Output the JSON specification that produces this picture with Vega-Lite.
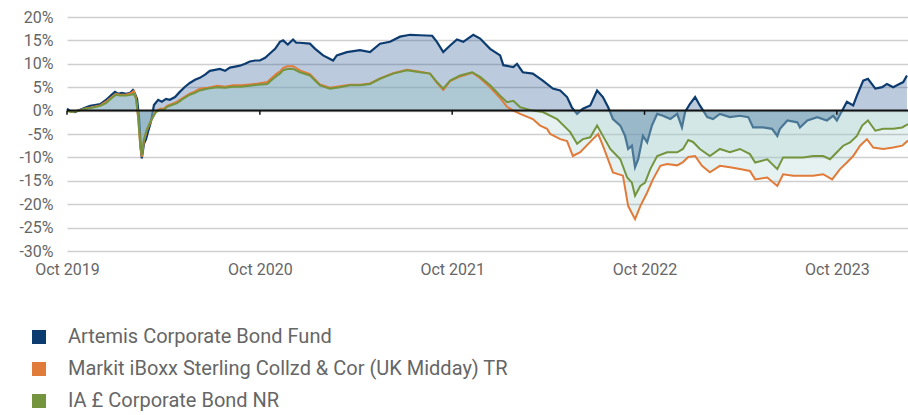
{
  "$schema": "https://vega.github.io/schema/vega-lite/v6.json",
  "width": 841,
  "height": 234,
  "autosize": {"type": "none"},
  "padding": {"left": 67, "top": 17, "right": 0, "bottom": 164},
  "background": "white",
  "config": {
    "view": {"stroke": null},
    "font": "Roboto",
    "axis": {"labelFont": "Roboto", "labelColor": "#666666", "labelFontSize": 16, "domain": false, "ticks": false, "title": null},
    "legend": {"labelFont": "Roboto"}
  },
  "datasets": {
    "fund": [
      {"d":"2019-10-01","v":0.4},{"d":"2019-10-07","v":-0.1},{"d":"2019-10-16","v":-0.3},{"d":"2019-10-26","v":0.2},{"d":"2019-11-04","v":0.6},{"d":"2019-11-14","v":1.0},{"d":"2019-11-23","v":1.2},{"d":"2019-12-03","v":1.4},{"d":"2019-12-12","v":2.1},{"d":"2019-12-18","v":2.7},{"d":"2019-12-25","v":3.4},{"d":"2019-12-31","v":4.0},
      {"d":"2020-01-06","v":3.6},{"d":"2020-01-13","v":3.8},{"d":"2020-01-21","v":3.6},{"d":"2020-01-29","v":3.8},{"d":"2020-02-03","v":4.4},{"d":"2020-02-07","v":3.6},{"d":"2020-02-11","v":2.5},{"d":"2020-02-15","v":-1.8},{"d":"2020-02-18","v":-8.2},{"d":"2020-02-20","v":-10.2},{"d":"2020-02-24","v":-7.1},{"d":"2020-02-28","v":-6.1},{"d":"2020-03-03","v":-4.4},{"d":"2020-03-07","v":-2.9},{"d":"2020-03-10","v":-1.4},{"d":"2020-03-14","v":1.2},{"d":"2020-03-22","v":2.3},{"d":"2020-03-29","v":1.9},{"d":"2020-04-06","v":2.5},{"d":"2020-04-13","v":2.3},{"d":"2020-04-23","v":2.9},{"d":"2020-05-02","v":4.0},{"d":"2020-05-12","v":5.1},{"d":"2020-05-21","v":5.9},{"d":"2020-05-31","v":6.6},{"d":"2020-06-09","v":7.0},{"d":"2020-06-19","v":7.7},{"d":"2020-06-28","v":8.5},{"d":"2020-07-08","v":8.7},{"d":"2020-07-17","v":8.9},{"d":"2020-07-27","v":8.5},{"d":"2020-08-05","v":9.2},{"d":"2020-08-15","v":9.4},{"d":"2020-08-24","v":9.6},{"d":"2020-09-03","v":10.0},{"d":"2020-09-12","v":10.5},{"d":"2020-09-22","v":10.7},{"d":"2020-10-01","v":10.7},{"d":"2020-10-11","v":11.3},{"d":"2020-10-20","v":12.2},{"d":"2020-10-30","v":13.2},{"d":"2020-11-08","v":14.7},{"d":"2020-11-14","v":15.0},{"d":"2020-11-23","v":14.1},{"d":"2020-12-03","v":15.2},{"d":"2020-12-09","v":14.5},{"d":"2020-12-16","v":14.5},
      {"d":"2021-01-04","v":14.3},{"d":"2021-01-14","v":13.2},{"d":"2021-01-29","v":11.8},{"d":"2021-02-17","v":10.7},{"d":"2021-02-24","v":11.8},{"d":"2021-03-15","v":12.5},{"d":"2021-04-09","v":12.9},{"d":"2021-04-28","v":12.5},{"d":"2021-05-17","v":14.3},{"d":"2021-06-05","v":14.7},{"d":"2021-06-24","v":15.8},{"d":"2021-07-13","v":16.2},{"d":"2021-08-01","v":16.1},{"d":"2021-08-24","v":16.0},{"d":"2021-09-02","v":14.7},{"d":"2021-09-14","v":12.5},{"d":"2021-09-27","v":13.9},{"d":"2021-10-10","v":15.2},{"d":"2021-10-22","v":14.7},{"d":"2021-11-10","v":16.2},{"d":"2021-11-23","v":15.4},{"d":"2021-12-12","v":13.2},{"d":"2021-12-31","v":11.8},
      {"d":"2022-01-06","v":9.7},{"d":"2022-01-25","v":9.3},{"d":"2022-02-01","v":10.0},{"d":"2022-02-12","v":8.2},{"d":"2022-03-03","v":7.9},{"d":"2022-03-22","v":6.4},{"d":"2022-04-10","v":4.7},{"d":"2022-04-24","v":4.3},{"d":"2022-05-07","v":2.9},{"d":"2022-05-16","v":0.7},{"d":"2022-05-26","v":-0.7},{"d":"2022-06-06","v":0.4},{"d":"2022-06-20","v":1.1},{"d":"2022-07-03","v":4.3},{"d":"2022-07-14","v":2.9},{"d":"2022-07-24","v":0.7},{"d":"2022-08-02","v":-1.8},{"d":"2022-08-16","v":-3.2},{"d":"2022-08-25","v":-5.4},{"d":"2022-08-31","v":-8.2},{"d":"2022-09-07","v":-7.5},{"d":"2022-09-13","v":-12.1},{"d":"2022-09-19","v":-10.4},{"d":"2022-09-28","v":-5.4},{"d":"2022-10-06","v":-6.8},{"d":"2022-10-15","v":-3.2},{"d":"2022-10-25","v":-0.7},{"d":"2022-11-05","v":-1.1},{"d":"2022-11-19","v":-1.8},{"d":"2022-12-02","v":-0.7},{"d":"2022-12-11","v":-3.6},{"d":"2022-12-17","v":-0.3},{"d":"2022-12-26","v":1.4},
      {"d":"2023-01-05","v":2.9},{"d":"2023-01-14","v":1.1},{"d":"2023-01-28","v":-1.4},{"d":"2023-02-08","v":-1.8},{"d":"2023-02-21","v":-0.7},{"d":"2023-03-12","v":-1.4},{"d":"2023-03-31","v":-1.1},{"d":"2023-04-16","v":-1.4},{"d":"2023-04-25","v":-3.6},{"d":"2023-05-14","v":-3.6},{"d":"2023-05-31","v":-3.9},{"d":"2023-06-10","v":-5.4},{"d":"2023-06-15","v":-3.9},{"d":"2023-06-29","v":-2.1},{"d":"2023-07-18","v":-2.5},{"d":"2023-07-23","v":-3.6},{"d":"2023-08-06","v":-2.1},{"d":"2023-08-25","v":-1.4},{"d":"2023-09-12","v":-2.1},{"d":"2023-09-24","v":-1.1},{"d":"2023-10-01","v":-2.1},{"d":"2023-10-13","v":0.4},{"d":"2023-10-20","v":1.9},{"d":"2023-11-01","v":1.1},{"d":"2023-11-08","v":3.2},{"d":"2023-11-20","v":6.4},{"d":"2023-11-29","v":6.8},{"d":"2023-12-13","v":4.7},{"d":"2023-12-26","v":5.0},
      {"d":"2024-01-04","v":5.7},{"d":"2024-01-16","v":5.0},{"d":"2024-01-23","v":5.4},{"d":"2024-02-04","v":6.1},{"d":"2024-02-11","v":7.5}
    ],
    "index": [
      {"d":"2019-10-01","v":0.0},{"d":"2019-10-10","v":-0.3},{"d":"2019-10-22","v":0.0},{"d":"2019-11-04","v":0.4},{"d":"2019-11-17","v":0.7},{"d":"2019-12-03","v":1.1},{"d":"2019-12-14","v":1.9},{"d":"2019-12-25","v":2.9},
      {"d":"2020-01-02","v":3.6},{"d":"2020-01-10","v":3.4},{"d":"2020-01-21","v":3.4},{"d":"2020-01-30","v":3.7},{"d":"2020-02-05","v":4.2},{"d":"2020-02-09","v":2.7},{"d":"2020-02-13","v":-1.4},{"d":"2020-02-17","v":-7.6},{"d":"2020-02-20","v":-9.9},{"d":"2020-02-24","v":-6.5},{"d":"2020-03-01","v":-4.1},{"d":"2020-03-07","v":-2.6},{"d":"2020-03-12","v":-1.4},{"d":"2020-03-18","v":-0.1},{"d":"2020-03-26","v":0.4},{"d":"2020-04-02","v":0.4},{"d":"2020-04-08","v":1.0},{"d":"2020-04-17","v":1.4},{"d":"2020-04-27","v":1.9},{"d":"2020-05-08","v":2.7},{"d":"2020-05-21","v":3.6},{"d":"2020-05-31","v":4.1},{"d":"2020-06-09","v":4.7},{"d":"2020-06-25","v":4.9},{"d":"2020-07-12","v":5.3},{"d":"2020-07-27","v":5.1},{"d":"2020-08-11","v":5.4},{"d":"2020-08-26","v":5.4},{"d":"2020-09-12","v":5.6},{"d":"2020-09-28","v":5.8},{"d":"2020-10-15","v":6.1},{"d":"2020-10-24","v":7.0},{"d":"2020-11-03","v":8.0},{"d":"2020-11-08","v":8.3},{"d":"2020-11-14","v":9.1},{"d":"2020-11-22","v":9.5},{"d":"2020-12-03","v":9.5},{"d":"2020-12-16","v":8.6},
      {"d":"2021-01-04","v":7.8},{"d":"2021-01-23","v":5.6},{"d":"2021-02-11","v":4.9},{"d":"2021-03-02","v":5.2},{"d":"2021-03-21","v":5.5},{"d":"2021-04-09","v":5.5},{"d":"2021-04-28","v":5.8},{"d":"2021-05-17","v":6.9},{"d":"2021-06-11","v":8.0},{"d":"2021-07-07","v":8.7},{"d":"2021-08-01","v":8.3},{"d":"2021-08-20","v":7.9},{"d":"2021-09-02","v":5.9},{"d":"2021-09-14","v":4.4},{"d":"2021-09-27","v":6.3},{"d":"2021-10-16","v":7.3},{"d":"2021-11-08","v":8.1},{"d":"2021-11-23","v":6.9},{"d":"2021-12-12","v":5.0},{"d":"2021-12-31","v":2.7},
      {"d":"2022-01-13","v":0.8},{"d":"2022-01-25","v":0.0},{"d":"2022-02-07","v":-0.7},{"d":"2022-03-03","v":-1.8},{"d":"2022-03-17","v":-3.2},{"d":"2022-03-30","v":-3.9},{"d":"2022-04-05","v":-5.0},{"d":"2022-04-24","v":-6.1},{"d":"2022-05-07","v":-6.5},{"d":"2022-05-18","v":-9.7},{"d":"2022-06-01","v":-8.9},{"d":"2022-06-25","v":-6.1},{"d":"2022-07-05","v":-5.0},{"d":"2022-07-14","v":-7.5},{"d":"2022-08-02","v":-13.2},{"d":"2022-08-21","v":-13.9},{"d":"2022-08-31","v":-20.4},{"d":"2022-09-13","v":-23.2},{"d":"2022-09-23","v":-20.4},{"d":"2022-10-06","v":-17.5},{"d":"2022-10-17","v":-14.7},{"d":"2022-10-31","v":-11.8},{"d":"2022-11-13","v":-11.4},{"d":"2022-12-02","v":-11.7},{"d":"2022-12-13","v":-11.0},{"d":"2022-12-23","v":-9.9},
      {"d":"2023-01-05","v":-9.7},{"d":"2023-01-18","v":-11.8},{"d":"2023-02-02","v":-13.2},{"d":"2023-02-21","v":-11.8},{"d":"2023-03-12","v":-12.1},{"d":"2023-03-31","v":-12.5},{"d":"2023-04-19","v":-12.9},{"d":"2023-04-29","v":-14.7},{"d":"2023-05-22","v":-14.3},{"d":"2023-06-10","v":-16.1},{"d":"2023-06-21","v":-13.6},{"d":"2023-07-10","v":-13.9},{"d":"2023-07-29","v":-13.9},{"d":"2023-08-17","v":-13.9},{"d":"2023-09-05","v":-13.6},{"d":"2023-09-22","v":-14.7},{"d":"2023-10-07","v":-12.5},{"d":"2023-10-20","v":-11.1},{"d":"2023-11-01","v":-9.7},{"d":"2023-11-14","v":-7.5},{"d":"2023-11-27","v":-6.1},{"d":"2023-12-09","v":-7.9},{"d":"2023-12-28","v":-8.2},
      {"d":"2024-01-16","v":-7.9},{"d":"2024-02-02","v":-7.5},{"d":"2024-02-13","v":-6.4}
    ],
    "sector": [
      {"d":"2019-10-01","v":-0.1},{"d":"2019-10-10","v":-0.3},{"d":"2019-10-22","v":-0.1},{"d":"2019-11-04","v":0.4},{"d":"2019-11-17","v":0.6},{"d":"2019-12-03","v":1.0},{"d":"2019-12-14","v":1.6},{"d":"2019-12-25","v":2.7},
      {"d":"2020-01-02","v":3.4},{"d":"2020-01-10","v":3.2},{"d":"2020-01-21","v":3.2},{"d":"2020-01-30","v":3.4},{"d":"2020-02-05","v":3.6},{"d":"2020-02-09","v":2.5},{"d":"2020-02-13","v":-1.4},{"d":"2020-02-17","v":-7.2},{"d":"2020-02-20","v":-9.5},{"d":"2020-02-24","v":-6.1},{"d":"2020-03-01","v":-3.9},{"d":"2020-03-07","v":-2.4},{"d":"2020-03-12","v":-1.4},{"d":"2020-03-18","v":-0.3},{"d":"2020-03-26","v":0.2},{"d":"2020-04-02","v":0.2},{"d":"2020-04-08","v":0.8},{"d":"2020-04-17","v":1.2},{"d":"2020-04-27","v":1.6},{"d":"2020-05-08","v":2.5},{"d":"2020-05-21","v":3.4},{"d":"2020-05-31","v":3.8},{"d":"2020-06-09","v":4.3},{"d":"2020-06-25","v":4.7},{"d":"2020-07-12","v":5.0},{"d":"2020-07-27","v":4.9},{"d":"2020-08-11","v":5.1},{"d":"2020-08-26","v":5.1},{"d":"2020-09-12","v":5.3},{"d":"2020-09-28","v":5.5},{"d":"2020-10-15","v":5.7},{"d":"2020-10-24","v":6.6},{"d":"2020-11-03","v":7.5},{"d":"2020-11-08","v":7.9},{"d":"2020-11-14","v":8.6},{"d":"2020-11-22","v":8.9},{"d":"2020-12-03","v":8.9},{"d":"2020-12-16","v":8.2},
      {"d":"2021-01-04","v":7.5},{"d":"2021-01-23","v":5.4},{"d":"2021-02-11","v":4.7},{"d":"2021-03-02","v":5.0},{"d":"2021-03-21","v":5.4},{"d":"2021-04-09","v":5.4},{"d":"2021-04-28","v":5.7},{"d":"2021-05-17","v":6.8},{"d":"2021-06-11","v":7.9},{"d":"2021-07-07","v":8.6},{"d":"2021-08-01","v":8.2},{"d":"2021-08-20","v":7.9},{"d":"2021-09-02","v":6.1},{"d":"2021-09-14","v":4.7},{"d":"2021-09-27","v":6.4},{"d":"2021-10-16","v":7.5},{"d":"2021-11-08","v":8.2},{"d":"2021-11-23","v":7.2},{"d":"2021-12-12","v":5.4},{"d":"2021-12-31","v":3.2},
      {"d":"2022-01-13","v":1.8},{"d":"2022-01-25","v":2.1},{"d":"2022-02-07","v":0.7},{"d":"2022-03-03","v":0.0},{"d":"2022-03-22","v":-0.3},{"d":"2022-04-18","v":-1.8},{"d":"2022-05-13","v":-4.6},{"d":"2022-05-26","v":-7.1},{"d":"2022-06-06","v":-6.1},{"d":"2022-06-20","v":-5.7},{"d":"2022-07-03","v":-3.2},{"d":"2022-07-14","v":-5.4},{"d":"2022-07-28","v":-8.2},{"d":"2022-08-16","v":-10.4},{"d":"2022-08-29","v":-14.3},{"d":"2022-09-07","v":-15.4},{"d":"2022-09-13","v":-18.2},{"d":"2022-09-23","v":-16.1},{"d":"2022-10-02","v":-15.4},{"d":"2022-10-12","v":-12.5},{"d":"2022-10-25","v":-9.7},{"d":"2022-11-13","v":-8.9},{"d":"2022-12-02","v":-8.9},{"d":"2022-12-13","v":-8.2},{"d":"2022-12-23","v":-6.3},
      {"d":"2023-01-01","v":-6.7},{"d":"2023-01-14","v":-8.2},{"d":"2023-02-02","v":-9.7},{"d":"2023-02-21","v":-8.2},{"d":"2023-03-12","v":-8.9},{"d":"2023-03-31","v":-8.2},{"d":"2023-04-19","v":-9.3},{"d":"2023-04-29","v":-11.1},{"d":"2023-05-22","v":-10.4},{"d":"2023-06-10","v":-12.5},{"d":"2023-06-21","v":-10.0},{"d":"2023-07-10","v":-10.0},{"d":"2023-07-29","v":-10.0},{"d":"2023-08-17","v":-9.7},{"d":"2023-09-05","v":-9.7},{"d":"2023-09-18","v":-10.4},{"d":"2023-10-01","v":-8.9},{"d":"2023-10-13","v":-7.5},{"d":"2023-10-26","v":-6.8},{"d":"2023-11-08","v":-5.4},{"d":"2023-11-18","v":-3.2},{"d":"2023-11-29","v":-2.1},{"d":"2023-12-13","v":-4.3},{"d":"2023-12-28","v":-3.9},
      {"d":"2024-01-16","v":-3.9},{"d":"2024-02-02","v":-3.6},{"d":"2024-02-13","v":-2.9}
    ],
    "ticks": [{"d":"2019-10-01"},{"d":"2020-10-01"},{"d":"2021-10-01"},{"d":"2022-10-01"},{"d":"2023-10-01"}]
  },
  "layer": [
    {
      "data": {"name": "fund"},
      "mark": {"type": "area", "fill": {"gradient": "linear", "x1": 0, "y1": 0, "x2": 0, "y2": 1, "stops": [
        {"offset": 0, "color": "rgba(31,79,143,0.30)"},
        {"offset": 0.572, "color": "rgba(31,79,143,0.30)"},
        {"offset": 0.573, "color": "rgba(31,79,143,0.46)"},
        {"offset": 1, "color": "rgba(31,79,143,0.46)"}]}},
      "encoding": {
        "x": {"field": "d", "type": "temporal", "scale": {"type": "utc", "domain": [{"year": 2019, "month": 10, "date": 1, "utc": true}, {"year": 2024, "month": 2, "date": 13, "utc": true}]},
          "axis": {"values": [{"year": 2019, "month": 10, "date": 1, "utc": true}, {"year": 2020, "month": 10, "date": 1, "utc": true}, {"year": 2021, "month": 10, "date": 1, "utc": true}, {"year": 2022, "month": 10, "date": 1, "utc": true}, {"year": 2023, "month": 10, "date": 1, "utc": true}],
            "tickCount": 20, "labelExpr": "utcFormat(datum.value, '%b %Y')", "grid": false, "labelPadding": 10, "labelFlush": false}},
        "y": {"field": "v", "type": "quantitative", "scale": {"domain": [-30, 20], "nice": false, "zero": false},
          "axis": {"values": [-30, -25, -20, -15, -10, -5, 0, 5, 10, 15, 20], "tickCount": 20, "labelExpr": "datum.value + '%'", "labelOverlap": false, "grid": true, "gridColor": "#cfcfcf", "gridWidth": 1.5, "labelPadding": 14}},
        "y2": {"datum": 0}
      }
    },
    {
      "data": {"name": "fund"},
      "mark": {"type": "line", "strokeWidth": 2.2},
      "encoding": {
        "x": {"field": "d", "type": "temporal"},
        "y": {"field": "v", "type": "quantitative"},
        "color": {"datum": "Artemis Corporate Bond Fund", "type": "nominal",
          "scale": {"domain": ["Artemis Corporate Bond Fund", "Markit iBoxx Sterling Collzd & Cor (UK Midday) TR", "IA £ Corporate Bond NR"], "range": ["#0c3b70", "#e07b3a", "#74953e"]},
          "legend": {"title": null, "orient": "none", "legendX": -38, "legendY": 310, "direction": "vertical", "padding": 0,
            "symbolType": "square", "symbolSize": 196, "symbolStrokeWidth": 0, "labelFontSize": 20, "labelColor": "#666666", "labelFont": "Roboto", "labelOffset": 19, "rowPadding": 12, "labelLimit": 800,
            "encode": {"symbols": {"update": {"fill": {"scale": "color", "field": "value"}, "opacity": {"value": 1}}}}}
        }
      }
    },
    {
      "data": {"name": "index"},
      "mark": {"type": "area", "color": "#58a8a8", "opacity": 0.15},
      "encoding": {"x": {"field": "d", "type": "temporal"}, "y": {"field": "v", "type": "quantitative"}, "y2": {"datum": 0}}
    },
    {
      "data": {"name": "sector"},
      "mark": {"type": "area", "color": "#afd1d1", "opacity": 0.33},
      "encoding": {"x": {"field": "d", "type": "temporal"}, "y": {"field": "v", "type": "quantitative"}, "y2": {"datum": 0}}
    },
    {
      "data": {"name": "index"},
      "mark": {"type": "line", "strokeWidth": 2},
      "encoding": {"x": {"field": "d", "type": "temporal"}, "y": {"field": "v", "type": "quantitative"}, "color": {"datum": "Markit iBoxx Sterling Collzd & Cor (UK Midday) TR", "type": "nominal"}}
    },
    {
      "data": {"name": "sector"},
      "mark": {"type": "line", "strokeWidth": 2},
      "encoding": {"x": {"field": "d", "type": "temporal"}, "y": {"field": "v", "type": "quantitative"}, "color": {"datum": "IA £ Corporate Bond NR", "type": "nominal"}}
    },
    {
      "data": {"values": [{}]},
      "mark": {"type": "rule", "color": "#111111", "strokeWidth": 2},
      "encoding": {"y": {"datum": 0, "type": "quantitative"}}
    },
    {
      "data": {"name": "ticks"},
      "mark": {"type": "rule", "color": "#111111", "strokeWidth": 1.5},
      "encoding": {"x": {"field": "d", "type": "temporal"}, "y": {"datum": 0, "type": "quantitative"}, "y2": {"datum": -0.9}}
    }
  ]
}
